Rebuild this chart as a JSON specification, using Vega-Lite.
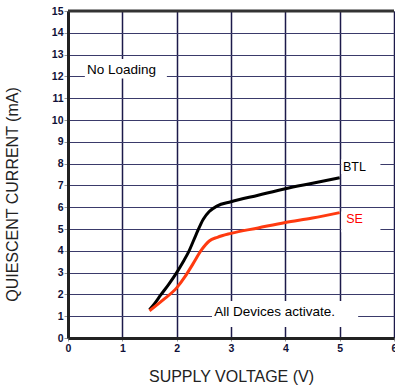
{
  "$schema": "https://vega.github.io/schema/vega-lite/v6.json",
  "width": 326,
  "height": 327,
  "autosize": {"type": "none"},
  "padding": {"left": 68, "top": 11, "right": 1, "bottom": 54},
  "background": "white",
  "config": {"view": {"stroke": null}, "font": "Liberation Sans"},
  "datasets": {
    "curves": [
      {"x": 1.5, "y": 1.3, "s": "BTL"}, {"x": 1.6, "y": 1.6, "s": "BTL"}, {"x": 1.7, "y": 1.95, "s": "BTL"},
      {"x": 1.85, "y": 2.45, "s": "BTL"}, {"x": 2.0, "y": 3.0, "s": "BTL"}, {"x": 2.12, "y": 3.5, "s": "BTL"},
      {"x": 2.22, "y": 3.95, "s": "BTL"}, {"x": 2.35, "y": 4.7, "s": "BTL"}, {"x": 2.49, "y": 5.45, "s": "BTL"},
      {"x": 2.6, "y": 5.8, "s": "BTL"}, {"x": 2.74, "y": 6.05, "s": "BTL"}, {"x": 3.0, "y": 6.25, "s": "BTL"},
      {"x": 3.5, "y": 6.55, "s": "BTL"}, {"x": 4.0, "y": 6.85, "s": "BTL"}, {"x": 4.5, "y": 7.1, "s": "BTL"},
      {"x": 5.0, "y": 7.35, "s": "BTL"},
      {"x": 1.5, "y": 1.25, "s": "SE"}, {"x": 1.75, "y": 1.75, "s": "SE"}, {"x": 2.0, "y": 2.3, "s": "SE"},
      {"x": 2.15, "y": 2.8, "s": "SE"}, {"x": 2.3, "y": 3.4, "s": "SE"}, {"x": 2.46, "y": 4.05, "s": "SE"},
      {"x": 2.6, "y": 4.45, "s": "SE"}, {"x": 2.75, "y": 4.62, "s": "SE"}, {"x": 3.0, "y": 4.8, "s": "SE"},
      {"x": 3.5, "y": 5.05, "s": "SE"}, {"x": 4.0, "y": 5.3, "s": "SE"}, {"x": 4.5, "y": 5.5, "s": "SE"},
      {"x": 5.0, "y": 5.75, "s": "SE"}
    ],
    "boxes": [
      {"x": 0.31, "x2": 1.82, "y": 11.9, "y2": 12.8},
      {"x": 2.65, "x2": 5.34, "y": 0.5, "y2": 1.7},
      {"x": 5.03, "x2": 5.75, "y": 7.52, "y2": 8.2},
      {"x": 5.03, "x2": 5.75, "y": 4.85, "y2": 5.8}
    ],
    "border": [{"x": 0, "x2": 6, "y": 15}],
    "labels": [
      {"x": 0.35, "y": 12.3, "t": "No Loading", "c": "black", "f": 13.5},
      {"x": 2.69, "y": 1.19, "t": "All Devices activate.", "c": "black", "f": 13.5},
      {"x": 5.06, "y": 7.83, "t": "BTL", "c": "black", "f": 12.5},
      {"x": 5.12, "y": 5.46, "t": "SE", "c": "red", "f": 12.5}
    ]
  },
  "encoding": {
    "x": {"field": "x", "type": "quantitative", "scale": {"domain": [0, 6], "nice": false},
      "axis": {"values": [0,1,2,3,4,5,6], "format": "d", "title": "SUPPLY VOLTAGE (V)", "titleFontSize": 16, "titleFontWeight": "normal",
        "titleColor": "#222", "titlePadding": 15, "labelFontSize": 10.5, "labelFontWeight": "bold", "labelColor": "#101038",
        "labelFlush": false, "labelOverlap": false, "labelPadding": 2, "ticks": true, "tickSize": 3, "tickColor": "#999",
        "domainColor": "#222", "domainWidth": 3, "grid": true, "gridColor": "#1c1a4a", "gridWidth": 1.5, "gridOpacity": 1}},
    "y": {"field": "y", "type": "quantitative", "scale": {"domain": [0, 15], "nice": false},
      "axis": {"values": [0,1,2,3,4,5,6,7,8,9,10,11,12,13,14,15], "format": "d", "title": "QUIESCENT CURRENT (mA)", "titleFontSize": 16,
        "titleFontWeight": "normal", "titleColor": "#222", "titlePadding": 31, "titleY": 183,
        "labelFontSize": 10.5, "labelFontWeight": "bold", "labelColor": "#101038", "labelPadding": 1, "labelOverlap": false,
        "ticks": true, "tickSize": 4, "tickColor": "#999", "domainColor": "#222", "domainWidth": 3,
        "grid": true, "gridColor": "#3a3a6a", "gridWidth": 1.2, "gridOpacity": 1}}
  },
  "layer": [
    {
      "data": {"name": "boxes"},
      "mark": {"type": "rect", "fill": "white", "stroke": null},
      "encoding": {"x2": {"field": "x2"}, "y2": {"field": "y2"}}
    },
    {
      "data": {"name": "curves"},
      "mark": {"type": "line", "strokeWidth": 3, "interpolate": "monotone"},
      "encoding": {
        "detail": {"field": "s"},
        "color": {"field": "s", "type": "nominal", "scale": {"domain": ["BTL", "SE"], "range": ["#000000", "#ff3a10"]}, "legend": null}
      }
    },
    {
      "data": {"name": "border"},
      "mark": {"type": "rule", "stroke": "#333", "strokeWidth": 3},
      "encoding": {"x2": {"field": "x2"}}
    },
    {
      "data": {"name": "labels"},
      "mark": {"type": "text", "align": "left", "baseline": "middle", "font": "Liberation Sans"},
      "encoding": {
        "text": {"field": "t"},
        "size": {"field": "f", "type": "quantitative", "scale": null},
        "color": {"field": "c", "type": "nominal", "scale": null}
      }
    }
  ]
}
